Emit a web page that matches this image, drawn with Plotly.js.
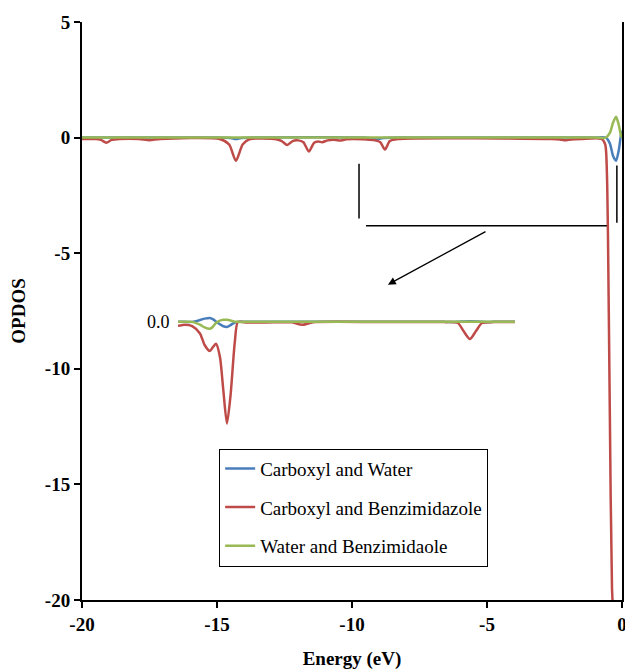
<!DOCTYPE html>
<html>
<head>
<meta charset="utf-8">
<script src="https://cdn.plot.ly/plotly-3.0.1.min.js"></script>
<style>html,body{margin:0;padding:0;background:#fff;}#chart{width:625px;height:671px;}</style>
</head>
<body>
<div id="chart"></div>
<script>
// ---- Main chart data (Energy in eV, OPDOS) ----
const seriesNames = ["Carboxyl and Water", "Carboxyl and Benzimidazole", "Water and Benzimidaole"];

const blueEnergy = [-20, -15.0, -14.5, -14.3, -14.1, -13.6, -9.6, -9.3, -9.1, -8.9, -8.4, -1.0, -0.6, -0.45, -0.33, -0.22, -0.12, -0.04, 0];
const blueValues = [0, 0, -0.02, -0.06, -0.02, 0, 0, -0.03, -0.08, -0.03, 0, 0, 0, -0.25, -0.8, -1.0, -0.55, 0.1, 0.3];

const redEnergy = [-20, -19.5, -19.3, -19.1, -18.9, -18.6, -17.9, -17.5, -17.1, -14.9, -14.55, -14.3, -14.05, -13.8, -12.8, -12.6, -12.4, -12.2, -12.0, -11.8, -11.6, -11.4, -11.25, -11.1, -10.9, -10.6, -10.45, -10.2, -9.6, -9.4, -9.15, -8.95, -8.78, -8.6, -8.3, -2.6, -2.3, -2.1, -1.9, -1.5, -0.75, -0.62, -0.56, -0.52, -0.45, -0.37, -0.3];
const redValues = [-0.06, -0.06, -0.1, -0.22, -0.1, -0.06, -0.06, -0.11, -0.06, -0.06, -0.3, -1.0, -0.3, -0.07, -0.07, -0.15, -0.32, -0.15, -0.12, -0.2, -0.6, -0.22, -0.17, -0.2, -0.12, -0.1, -0.13, -0.07, -0.07, -0.09, -0.12, -0.2, -0.52, -0.15, -0.06, -0.06, -0.08, -0.12, -0.08, -0.06, -0.06, -0.3, -1.5, -4.2, -12.0, -19.5, -21.0];

const greenEnergy = [-20, -1.0, -0.6, -0.45, -0.33, -0.22, -0.12, -0.04, 0];
const greenValues = [0, 0, 0, 0.2, 0.65, 0.9, 0.55, 0.1, 0];

// ---- Inset (magnified view) data ----
const insetEnergy = [-9.7, -9.5, -9.3, -9.08, -8.95, -8.8, -8.72, -8.63, -8.52, -8.42, -8.32, -8.22, -8.1, -8.01, -7.8, -7.0, -6.5, -6.2, -5.9, -4.0, -2.2, -1.81, -1.65, -1.47, -1.3, -1.13, -0.8, -0.2];
const insetBlue  = [0, 0, 0, 0.08, 0.14, 0.17, 0.12, 0.02, -0.1, -0.19, -0.22, -0.14, -0.03, 0, 0, 0, 0, 0, 0, 0, 0, 0, 0.02, 0.03, 0.02, 0, 0, 0];
const insetRed   = [-0.17, -0.12, -0.18, -0.5, -1.0, -1.26, -1.1, -0.95, -1.5, -3.0, -4.4, -3.2, -0.9, 0, -0.03, -0.02, -0.02, -0.13, -0.02, -0.01, -0.01, -0.05, -0.4, -0.74, -0.4, -0.05, -0.01, -0.01];
const insetGreen = [0, 0, 0, -0.12, -0.24, -0.3, -0.22, -0.05, 0.05, 0.09, 0.09, 0.06, 0.01, 0, 0, 0, 0, 0, 0, 0, 0, 0, 0, 0, 0, 0, 0, 0];
const insetZeroLabel = "0.0";

// ---- Axis ticks ----
const xTicks = [-20, -15, -10, -5, 0];
const yTicks = [5, 0, -5, -10, -15, -20];

const colors = ["#4a7ebb", "#be4b48", "#98b954"];
const serif = "Liberation Serif, Times New Roman, serif";

const mainLine = (x, y, i) => ({
  x: x, y: y, type: "scatter", mode: "lines", name: seriesNames[i],
  legendgroup: "g" + i,
  line: {color: colors[i], width: 2.5, shape: "spline", smoothing: 0.7},
  xaxis: "x", yaxis: "y", hoverinfo: "skip"
});
const insetLine = (y, i) => ({
  x: insetEnergy, y: y, type: "scatter", mode: "lines", showlegend: false,
  legendgroup: "g" + i,
  line: {color: colors[i], width: 2.5, shape: "spline", smoothing: 0.7},
  xaxis: "x2", yaxis: "y2", hoverinfo: "skip"
});

const data = [
  mainLine(blueEnergy, blueValues, 0),
  mainLine(redEnergy, redValues, 1),
  mainLine(greenEnergy, greenValues, 2),
  insetLine(insetBlue, 0),
  insetLine(insetRed, 1),
  insetLine(insetGreen, 2)
];

const layout = {
  width: 625, height: 671,
  margin: {l: 82, r: 3, t: 22, b: 71},
  paper_bgcolor: "#fff", plot_bgcolor: "rgba(0,0,0,0)",
  font: {family: serif, color: "#000"},
  showlegend: true,
  legend: {
    x: 0.254, y: 0.262, xanchor: "left", yanchor: "top",
    bgcolor: "#fff", bordercolor: "#000", borderwidth: 1,
    font: {family: serif, size: 19, color: "#000"},
    tracegroupgap: 11, traceorder: "grouped"
  },
  xaxis: {
    range: [-20, 0], tickvals: xTicks, ticktext: xTicks.map(String),
    showgrid: false, zeroline: false, showline: true, linecolor: "#000", linewidth: 2,
    ticks: "outside", ticklen: 6, tickwidth: 2, tickcolor: "#000",
    ticklabeloverflow: "allow",
    tickfont: {family: serif, size: 19, color: "#000", weight: "bold"},
    title: {text: "<b>Energy (eV)</b>", font: {family: serif, size: 19, color: "#000"}, standoff: 18},
    domain: [0, 1]
  },
  yaxis: {
    range: [-20, 5], tickvals: yTicks, ticktext: yTicks.map(String),
    showgrid: false, zeroline: false, showline: true, linecolor: "#000", linewidth: 2,
    mirror: true,
    ticks: "outside", ticklen: 6, tickwidth: 2, tickcolor: "#000",
    tickfont: {family: serif, size: 19, color: "#000", weight: "bold"},
    title: {text: "<b>OPDOS</b>", font: {family: serif, size: 19, color: "#000"}, standoff: 14}
  },
  xaxis2: {
    domain: [(178 - 82) / 540, (515 - 82) / 540], range: [-9.7, -0.2],
    anchor: "y2", visible: false, showgrid: false, zeroline: false
  },
  yaxis2: {
    domain: [0, 1], range: [-20 + 7.97, 5 + 7.97],
    anchor: "x2", visible: false, showgrid: false, zeroline: false
  },
  shapes: [
    {type: "line", xref: "x", yref: "y", x0: -9.74, x1: -9.74, y0: -1.13, y1: -3.5, line: {color: "#000", width: 1.5}},
    {type: "line", xref: "x", yref: "y", x0: -9.48, x1: -0.56, y0: -3.81, y1: -3.81, line: {color: "#000", width: 1.5}},
    {type: "line", xref: "x", yref: "y", x0: -0.19, x1: -0.19, y0: -1.21, y1: -3.68, line: {color: "#000", width: 1.5}}
  ],
  annotations: [
    {x: -8.67, y: -6.36, xref: "x", yref: "y", ax: -5.0, ay: -4.03, axref: "x", ayref: "y",
     showarrow: true, arrowhead: 2, arrowsize: 1.2, arrowwidth: 1.3, arrowcolor: "#000", text: ""},
    {x: -9.7, y: 0, xref: "x2", yref: "y2", text: insetZeroLabel, showarrow: false,
     xanchor: "right", xshift: -6, font: {family: serif, size: 18, color: "#000"}}
  ]
};

Plotly.newPlot("chart", data, layout, {displayModeBar: false, staticPlot: true});
</script>
</body>
</html>
